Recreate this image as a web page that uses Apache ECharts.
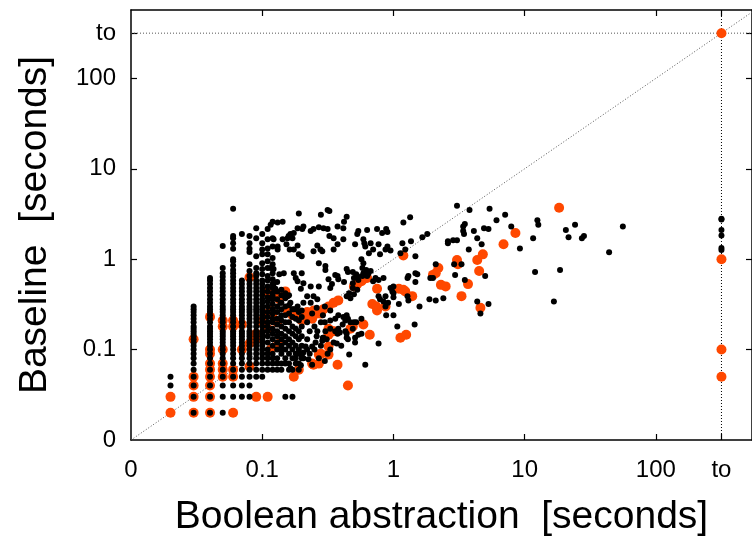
<!DOCTYPE html>
<html><head><meta charset="utf-8">
<script src="https://cdn.jsdelivr.net/npm/echarts@6/dist/echarts.min.js"></script>
<style>html,body{margin:0;padding:0;background:#fff}#c{width:752px;height:538px}</style>
</head><body><div id="c"></div>
<script>
const TO = 316;               // "to" (timeout) position
const AXIS_MIN = 0.01;        // labelled "0"
const X_MAX = 540;
const Y_MAX = 570;
const tickValues = [0.01, 0.1, 1, 10, 100, TO];
const tickLabels = ['0', '0.1', '1', '10', '100', 'to'];
const xTitle = 'Boolean abstraction  [seconds]';
const yTitle = 'Baseline  [seconds]';

// quantized low-time columns (black): x value and its y values
const columnX = [0.02, 0.03, 0.04, 0.05, 0.06, 0.07, 0.08, 0.09, 0.1, 0.11, 0.12, 0.13, 0.14, 0.15, 0.16, 0.17, 0.18, 0.19, 0.2];
const columnY = [
  [0.04, 0.05],
  [0.02,0.03,0.04,0.05,0.06,0.07,0.08,0.09,0.1,0.11,0.12,0.13,0.14,0.15,0.16,0.17,0.18,0.2,0.22,0.24,0.26,0.28,0.3],
  [0.02,0.03,0.04,0.05,0.06,0.07,0.08,0.09,0.1,0.11,0.12,0.13,0.14,0.15,0.16,0.17,0.18,0.2,0.22,0.24,0.26,0.28,0.3,0.33,0.36,0.4,0.44,0.48,0.53,0.58,0.62],
  [0.02,0.03,0.04,0.05,0.06,0.07,0.08,0.09,0.1,0.11,0.12,0.13,0.14,0.15,0.16,0.18,0.2,0.22,0.24,0.26,0.28,0.3,0.33,0.36,0.4,0.44,0.48,0.53,0.58,0.64,0.7,0.8,1.4],
  [0.03,0.04,0.05,0.06,0.07,0.08,0.09,0.1,0.11,0.12,0.13,0.14,0.15,0.16,0.18,0.2,0.22,0.24,0.26,0.28,0.3,0.33,0.36,0.4,0.44,0.48,0.53,0.58,0.64,0.7,0.76,0.85,0.95,1.0,1.3,1.5,1.7,1.8,3.6],
  [0.03,0.04,0.05,0.06,0.07,0.08,0.09,0.1,0.11,0.12,0.13,0.14,0.15,0.16,0.18,0.2,0.22,0.24,0.26,0.28,0.3,0.33,0.36,0.4,0.44,0.48,0.53,0.58,1.9],
  [0.03,0.04,0.05,0.06,0.07,0.08,0.09,0.1,0.11,0.12,0.13,0.14,0.15,0.16,0.18,0.2,0.22,0.24,0.26,0.28,0.3,0.33,0.36,0.4,0.44,0.48,0.53,0.58,0.65,0.74,0.88,1.2,1.3,1.5,1.8],
  [0.05,0.06,0.07,0.08,0.09,0.1,0.11,0.12,0.13,0.14,0.15,0.16,0.18,0.2,0.22,0.24,0.26,0.28,0.3,0.33,0.36,0.4,0.44,0.48,0.53,0.58,0.65,0.7,0.8,1.08,1.7,2.2],
  [0.05,0.06,0.07,0.08,0.09,0.1,0.11,0.12,0.13,0.14,0.15,0.16,0.18,0.2,0.22,0.24,0.26,0.28,0.3,0.33,0.36,0.4,0.44,0.48,0.53,0.58,0.68,0.78,0.9,1.13,1.28,1.5,1.9],
  [0.06,0.07,0.08,0.09,0.1,0.12,0.14,0.16,0.18,0.2,0.23,0.26,0.3,0.34,0.38,0.44,0.5,0.58,0.65,0.8,0.95,1.13,1.31,1.66,2.15],
  [0.06,0.07,0.08,0.09,0.11,0.13,0.15,0.17,0.2,0.22,0.25,0.28,0.32,0.36,0.42,0.48,0.53,0.6,0.7,0.88,1.03,1.38,1.7,2.6],
  [0.06,0.07,0.08,0.1,0.12,0.14,0.16,0.19,0.22,0.26,0.3,0.36,0.44,0.56],
  [0.06,0.07,0.09,0.1,0.11,0.13,0.15,0.18,0.21,0.24,0.28,0.33,0.4,0.46],
  [0.03,0.07,0.08,0.1,0.12,0.14,0.17,0.2,0.24,0.3,0.37,0.42],
  [0.06,0.07,0.09,0.11,0.13,0.16,0.2,0.25,0.31,0.4],
  [0.03,0.06,0.08,0.1,0.12,0.15,0.18,0.23,0.28],
  [0.07,0.08,0.09,0.11,0.14,0.17,0.22,0.28],
  [0.07,0.09,0.1,0.13,0.16,0.21,0.26],
  [0.08,0.09,0.11,0.14,0.18,0.23]
];

// remaining black points [boolean abstraction, baseline]
const blackScatter = [
  [0.19,3.2],[0.28,3.1],[0.315,3.5],[0.325,3.4],[0.131,2.55],[0.143,2.6],[0.116,2.4],
  [0.186,2.2],[0.206,2.3],[0.202,2.15],[0.234,2.05],[0.246,2.15],[0.27,2.25],[0.293,2.2],[0.315,2.15],
  [0.375,2.3],[0.415,2.2],[0.42,2.6],[0.44,2.95],[0.325,1.8],[0.35,1.7],
  [0.164,1.9],[0.174,1.95],[0.159,1.8],[0.17,1.7],[0.156,1.7],[0.122,1.66],[0.143,1.66],
  [0.54,2.05],[0.53,1.9],[0.63,2.1],[0.75,2.15],[0.82,1.95],[0.88,2.15],[0.9,2.0],
  [1.19,2.55],[1.34,2.9],[1.17,1.5],[1.23,1.28],[1.36,1.58],[1.47,1.08],
  [0.131,1.38],[0.131,1.28],[0.153,1.46],[0.162,1.28],[0.174,1.28],[0.186,1.42],[0.19,1.13],[0.2,1.08],
  [0.246,1.22],[0.263,1.42],[0.278,1.28],[0.287,1.22],[0.35,1.28],[0.375,1.46],[0.415,1.66],
  [0.51,1.46],[0.59,1.66],[0.6,1.5],[0.61,1.38],[0.67,1.5],[0.7,1.28],[0.77,1.46],[0.79,1.13],[0.87,1.28],[0.9,1.38],[0.95,1.25],[0.65,1.16],
  [0.116,0.8],[0.122,0.78],[0.135,0.68],[0.146,0.7],[0.174,0.7],[0.18,0.62],[0.186,0.57],[0.2,0.7],[0.206,0.54],
  [0.27,0.9],[0.303,0.84],[0.303,0.76],[0.34,0.53],[0.33,0.48],[0.375,0.65],[0.38,0.6],[0.44,0.78],[0.45,0.72],
  [0.49,0.54],[0.5,0.62],[0.57,1.0],[0.58,0.8],[0.59,0.9],[0.53,0.65],[0.58,0.65],[0.59,0.7],[0.62,0.76],[0.64,0.68],
  [0.7,0.57],[0.73,0.62],[0.77,0.39],[0.79,0.36],[0.87,0.39],[0.91,0.33],[1.1,0.32],[1.3,0.65],[1.47,0.7],[1.0,0.5],
  [0.44,0.39],[0.46,0.42],[0.49,0.72],[0.52,0.68],[0.36,0.67],[0.32,0.6],[0.42,0.56],[0.54,0.59],[0.63,0.65],[0.67,0.74],
  [0.49,0.48],[0.53,0.46],[0.5,0.41],[0.47,0.37],[0.77,0.59],[0.84,0.62],[0.95,0.48],[0.98,0.44],[0.84,0.34],[0.87,0.3],
  [1.0,0.42],[1.0,0.38],[1.28,0.62],
  [3.05,3.9],[5.4,3.6],[7.1,3.1],[6.1,2.7],[7.9,2.3],[12.5,2.7],[12.7,2.4],[11.6,1.7],[9.2,1.31],[12.0,0.72],
  [3.8,3.5],[3.4,2.3],[3.5,2.45],[3.4,2.05],[3.45,1.9],[4.1,2.05],[4.9,2.2],[5.3,2.15],[4.35,1.7],[4.7,1.46],[3.75,1.28],
  [2.6,1.5],[2.6,1.58],[2.85,1.62],[3.05,1.62],[2.9,0.88],[3.3,0.88],[2.95,0.67],[3.5,0.59],[5.0,0.65],
  [4.35,0.34],[4.6,0.25],[5.3,0.32],[1.81,1.9],[1.66,1.75],[1.13,1.16],[2.1,0.88],[1.91,0.62],[2.0,0.62],[1.52,0.68],[1.47,0.56],
  [1.88,0.36],[2.1,0.35],[2.4,0.37],[1.58,0.3],[1.45,0.19],[1.28,0.39],[1.3,0.35],[1.0,0.24],[1.07,0.18],[0.88,0.24],
  [0.77,0.117],[0.61,0.068],[0.46,0.088],
  [16.7,0.34],[18.6,0.76],[20.6,2.1],[21.6,1.75],[24.2,2.4],[27.3,1.7],[28.3,1.8],[44,1.19],[56,2.3],
  [0.3,0.2],[0.33,0.21],[0.36,0.22],[0.38,0.24],[0.415,0.23],[0.43,0.21],[0.45,0.22],[0.39,0.155],[0.43,0.16],[0.44,0.135],
  [0.57,0.22],[0.52,0.2],[0.49,0.17],[0.54,0.146],[0.37,0.117],[0.315,0.09],[0.29,0.135],
  [0.47,0.2],[0.5,0.2],[0.44,0.24],[0.41,0.19],[0.38,0.17],[0.375,0.15],[0.33,0.17],[0.36,0.16],[0.51,0.135],[0.51,0.12],[0.45,0.13],[0.44,0.15],[0.57,0.15],
  [0.263,0.16],[0.303,0.16],[0.293,0.135],[0.287,0.125],[0.255,0.12],[0.24,0.108],[0.22,0.1],[0.214,0.108],[0.206,0.093],[0.2,0.085],[0.206,0.08],[0.225,0.078],
  [0.164,0.062],[0.197,0.067],[0.19,0.06],[0.24,0.068],
  [0.122,0.53],[0.126,0.47],[0.12,0.39],[0.138,0.33],[0.156,0.39],[0.164,0.33],[0.174,0.28],[0.186,0.3],[0.2,0.27],[0.206,0.33],[0.22,0.39],[0.234,0.33],[0.246,0.39],[0.263,0.36],[0.27,0.5],[0.197,0.47],[0.234,0.5],
  [0.22,0.2],[0.23,0.16],[0.25,0.18],[0.26,0.14],[0.28,0.2],[0.24,0.25],[0.26,0.29],[0.29,0.24],[0.3,0.3],[0.33,0.27],[0.22,0.13],[0.25,0.1],[0.28,0.11],[0.31,0.13],[0.35,0.12],[0.4,0.11],[0.33,0.1],
  [0.23,0.09],[0.27,0.08],[0.3,0.075]
];
// black points where boolean abstraction timed out
const blackTimeoutY = [2.8, 2.75, 2.1, 1.83, 1.33, 1.26];

// orange points [boolean abstraction, baseline]
const orangePoints = [
  [0.02,0.02],[0.02,0.03],
  [0.03,0.02],[0.03,0.03],[0.03,0.04],[0.03,0.05],[0.03,0.13],
  [0.04,0.02],[0.04,0.03],[0.04,0.04],[0.04,0.05],[0.04,0.06],[0.04,0.07],[0.04,0.09],[0.04,0.1],[0.04,0.23],
  [0.05,0.05],[0.05,0.06],[0.05,0.07],[0.05,0.1],[0.05,0.18],[0.05,0.21],
  [0.06,0.02],[0.06,0.05],[0.06,0.06],[0.06,0.18],[0.06,0.21],
  [0.07,0.1],[0.07,0.19],
  [0.08,0.117],[0.08,0.065],[0.08,0.63],
  [0.09,0.03],[0.09,0.13],[0.09,0.15],
  [0.1,0.2],[0.1,0.21],
  [0.11,0.03],[0.11,0.17],[0.11,0.25],[0.11,0.44],
  [0.116,0.1],[0.116,0.27],[0.116,0.39],
  [0.12,0.25],
  [0.13,0.11],[0.13,0.2],[0.13,0.39],[0.135,0.36],[0.135,0.117],
  [0.15,0.44],[0.156,0.27],
  [0.17,0.24],[0.174,0.05],
  [0.19,0.06],[0.197,0.24],[0.2,0.21],
  [0.22,0.23],[0.22,0.26],
  [0.24,0.07],[0.246,0.068],[0.246,0.27],[0.24,0.22],
  [0.26,0.25],[0.27,0.07],[0.27,0.088],[0.28,0.25],[0.28,0.09],
  [0.293,0.28],
  [0.32,0.3],[0.32,0.108],[0.32,0.088],[0.32,0.146],[0.32,0.17],
  [0.34,0.16],[0.35,0.33],[0.35,0.16],[0.375,0.068],[0.38,0.35],
  [0.45,0.04],[0.47,0.17],[0.49,0.18],
  [0.5,0.5],[0.53,0.53],[0.57,0.57],[0.59,0.6],[0.63,0.62],
  [0.59,0.19],[0.66,0.146],
  [0.69,0.32],[0.74,0.3],[0.75,0.27],[0.75,0.47],[0.87,0.3],
  [1.1,0.47],[1.19,0.46],[1.23,0.44],[1.39,0.39],
  [1.13,0.135],[1.25,0.146],[1.19,1.1],
  [2.0,0.67],[2.1,0.7],[2.2,0.8],[2.3,0.52],[2.5,0.5],
  [3.05,0.98],[3.1,0.88],[3.3,0.39],[3.7,0.53],
  [4.35,0.98],[4.5,0.74],[4.6,0.29],[4.8,1.13],
  [6.9,1.46],[8.5,1.95],[18.3,3.7],
  [TO,TO],[TO,1.0],[TO,0.1],[TO,0.05]
];

const blackPoints = [];
columnX.forEach((x, i) => columnY[i].forEach(y => blackPoints.push([x, y])));
blackScatter.forEach(p => blackPoints.push(p));
blackTimeoutY.forEach(y => blackPoints.push([TO, y]));

const FONT = 'Liberation Sans, Arial, Helvetica, sans-serif';
function fmt(v) {
  let best = -1, bd = 1e9;
  tickValues.forEach((t, i) => {
    const d = Math.abs(Math.log10(v) - Math.log10(t));
    if (d < bd) { bd = d; best = i; }
  });
  return bd < 0.05 ? tickLabels[best] : '';
}
const tickMarks = tickValues.slice(1);
function axis(kind, position, withLabels) {
  const isX = kind === 'x';
  const a = {
    type: 'log', logBase: 10, min: AXIS_MIN, max: isX ? X_MAX : Y_MAX,
    position: position,
    axisLine: { show: true, onZero: false, lineStyle: { color: '#000', width: 1.5 } },
    axisTick: { show: true, inside: true, length: 6, customValues: tickMarks, lineStyle: { color: '#000', width: 1.2 } },
    axisLabel: { show: withLabels, customValues: tickValues, formatter: fmt, fontSize: 24, color: '#000', fontFamily: FONT, margin: isX ? 18 : 15 },
    splitLine: { show: false },
    minorTick: { show: false },
    minorSplitLine: { show: false }
  };
  if (withLabels) {
    a.name = isX ? xTitle : yTitle;
    a.nameLocation = 'middle';
    a.nameGap = isX ? 58 : 76;
    if (!isX) a.nameRotate = 90;
    a.nameTextStyle = { fontSize: 39, color: '#000', fontFamily: FONT };
  }
  return a;
}

const chart = echarts.init(document.getElementById('c'), null, { renderer: 'canvas' });
chart.setOption({
  animation: false,
  backgroundColor: '#fff',
  grid: { left: 131, top: 10, right: 0, bottom: 98, containLabel: false, outerBoundsMode: 'none' },
  xAxis: [axis('x', 'bottom', true), axis('x', 'top', false)],
  yAxis: [axis('y', 'left', true), axis('y', 'right', false)],
  series: [
    { type: 'line', data: [[AXIS_MIN, AXIS_MIN], [X_MAX, X_MAX]], symbol: 'none', silent: true,
      lineStyle: { color: '#555', width: 1, type: [1, 2] }, z: 1 },
    { type: 'line', data: [[AXIS_MIN, TO], [X_MAX, TO]], symbol: 'none', silent: true,
      lineStyle: { color: '#555', width: 1, type: [1, 2] }, z: 1 },
    { type: 'line', data: [[TO, AXIS_MIN], [TO, Y_MAX]], symbol: 'none', silent: true,
      lineStyle: { color: '#000', width: 1, type: [1, 2] }, z: 1 },
    { type: 'scatter', data: orangePoints, symbolSize: 10, itemStyle: { color: '#ff4800', opacity: 1 }, z: 2, silent: true },
    { type: 'scatter', data: blackPoints, symbolSize: 6, itemStyle: { color: '#000', opacity: 1 }, z: 3, silent: true }
  ]
});
</script>
</body></html>
